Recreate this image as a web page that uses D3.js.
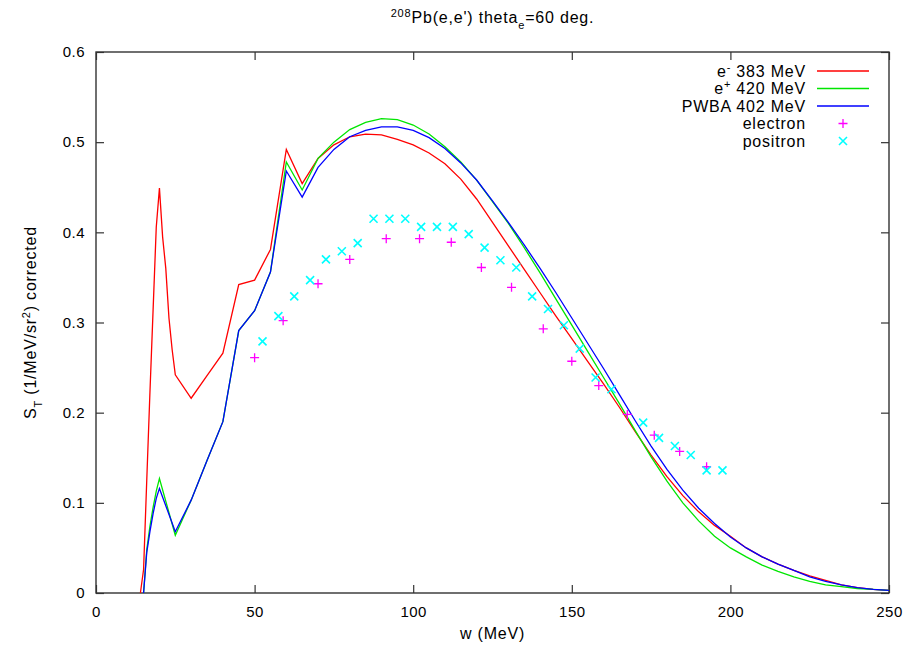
<!DOCTYPE html>
<meta charset="utf-8">
<style>
body { margin: 0; background: #fff; }
svg text { font-family: "Liberation Sans", Arial, sans-serif; fill: #000; }
.tick text { font-size: 15px; letter-spacing: 0.5px; }
.tick line { stroke: #333; stroke-width: 1.2; }
.legend text, .label text { font-size: 16px; letter-spacing: 0.8px; }
</style>
<svg class="chart"></svg>
<script src="https://cdn.jsdelivr.net/npm/d3@7"></script>
<script>

// e- 383 MeV (red)
var redW = [14, 15, 16, 17, 18, 19, 20, 21, 22, 23, 24, 25, 30, 35, 40, 45, 50, 55, 60, 65, 70, 75, 80, 85, 90, 95, 100,
  105, 110, 115, 120, 125, 130, 135, 140, 145, 150, 155, 160, 165, 170, 175, 180, 185, 190, 195, 200,
  205, 210, 215, 220, 225, 230, 235, 240, 245, 250];
var redS = [0, 0.026, 0.125, 0.222, 0.314, 0.406, 0.449, 0.395, 0.36, 0.305, 0.27, 0.242, 0.216, 0.241, 0.266, 0.342,
  0.347, 0.381, 0.492, 0.454, 0.482, 0.497, 0.506, 0.509, 0.508, 0.503, 0.497,
  0.488, 0.476, 0.459, 0.437, 0.411, 0.385, 0.359, 0.333, 0.307, 0.282, 0.257, 0.232, 0.206, 0.179, 0.153, 0.129,
  0.108, 0.090, 0.075, 0.063, 0.050, 0.040, 0.032, 0.025, 0.019, 0.014, 0.009, 0.006, 0.004, 0.003];

// e+ 420 MeV (green) and PWBA 402 MeV (blue) share the same w grid
var gridW = [15, 16, 17, 18, 19, 20, 25, 30, 35, 40, 45, 50, 55, 60, 65, 70, 75, 80, 85, 90, 95, 100,
  105, 110, 115, 120, 125, 130, 135, 140, 145, 150, 155, 160, 165, 170, 175, 180, 185, 190, 195, 200,
  205, 210, 215, 220, 225, 230, 235, 240, 245, 250];
var greenS = [0, 0.048, 0.074, 0.095, 0.113, 0.127, 0.064, 0.103, 0.147, 0.19, 0.291, 0.313, 0.356, 0.478, 0.447,
  0.482, 0.500, 0.514, 0.522, 0.526, 0.525, 0.519, 0.509, 0.495, 0.478, 0.458, 0.434, 0.410, 0.383, 0.355,
  0.326, 0.297, 0.268, 0.239, 0.210, 0.180, 0.151, 0.124, 0.100, 0.080, 0.063, 0.050, 0.040, 0.031, 0.024,
  0.018, 0.013, 0.009, 0.007, 0.005, 0.004, 0.003];
var blueS = [0, 0.045, 0.068, 0.088, 0.105, 0.116, 0.068, 0.103, 0.147, 0.19, 0.291, 0.313, 0.356, 0.468, 0.439,
  0.472, 0.492, 0.506, 0.513, 0.517, 0.517, 0.513, 0.505, 0.493, 0.477, 0.458, 0.435, 0.411, 0.386, 0.360,
  0.333, 0.305, 0.277, 0.249, 0.220, 0.191, 0.163, 0.137, 0.114, 0.094, 0.077, 0.062, 0.050, 0.040, 0.032,
  0.025, 0.018, 0.013, 0.009, 0.006, 0.004, 0.003];

// measured points
var electronW = [50, 59, 70, 80, 91.5, 102, 112, 121.5, 131, 141, 150, 158.5, 167.5, 176, 184, 192.5];
var electronS = [0.261, 0.302, 0.343, 0.370, 0.393, 0.393, 0.389, 0.361, 0.339, 0.293, 0.257, 0.230, 0.198,
  0.175, 0.157, 0.140];
var positronW = [52.5, 57.5, 62.5, 67.5, 72.5, 77.5, 82.5, 87.5, 92.5, 97.5, 102.5, 107.5, 112.5, 117.5, 122.5,
  127.5, 132.5, 137.5, 142.5, 147.5, 152.5, 157.5, 162.5, 172.5, 177.5, 182.5, 187.5, 192.5, 197.5];
var positronS = [0.279, 0.307, 0.329, 0.347, 0.370, 0.379, 0.388, 0.415, 0.415, 0.415, 0.406, 0.406, 0.406,
  0.398, 0.383, 0.369, 0.361, 0.329, 0.315, 0.297, 0.271, 0.239, 0.226, 0.189, 0.172, 0.163, 0.153, 0.136, 0.136];

var xTicks = [0, 50, 100, 150, 200, 250];
var yTicks = [0, 0.1, 0.2, 0.3, 0.4, 0.5, 0.6];
var yTickLabels = ["0", "0.1", "0.2", "0.3", "0.4", "0.5", "0.6"];

var width = 911, height = 649;
// plot frame (window.top is read-only, so use prefixed names)
var plotLeft = 96, plotRight = 889, plotTop = 52, plotBottom = 593;

var svg = d3.select(".chart")
  .attr("width", width)
  .attr("height", height);

var x = d3.scaleLinear().domain([0, 250]).range([plotLeft, plotRight]);
var y = d3.scaleLinear().domain([0, 0.6]).range([plotBottom, plotTop]);

// axes, ticks point inward on all four sides
svg.append("g")
  .attr("transform", "translate(0," + plotBottom + ")")
  .call(d3.axisBottom(x).tickValues(xTicks).tickSize(-8).tickSizeOuter(0).tickPadding(13).tickFormat(d3.format("d")))
  .call(function(g) { g.select(".domain").remove(); })
  .selectAll("text").attr("font-family", null).attr("font-size", null);

svg.append("g")
  .attr("transform", "translate(" + plotLeft + ",0)")
  .call(d3.axisLeft(y).tickValues(yTicks).tickSize(-8).tickSizeOuter(0).tickPadding(11)
    .tickFormat(function(d, i) { return yTickLabels[i]; }))
  .call(function(g) { g.select(".domain").remove(); })
  .selectAll("text").attr("font-family", null).attr("font-size", null);

svg.append("g")
  .attr("transform", "translate(0," + plotTop + ")")
  .call(d3.axisTop(x).tickValues(xTicks).tickSize(-8).tickSizeOuter(0).tickFormat(""))
  .call(function(g) { g.select(".domain").remove(); });

svg.append("g")
  .attr("transform", "translate(" + plotRight + ",0)")
  .call(d3.axisRight(y).tickValues(yTicks).tickSize(-8).tickSizeOuter(0).tickFormat(""))
  .call(function(g) { g.select(".domain").remove(); });

svg.append("rect")
  .attr("x", plotLeft).attr("y", plotTop)
  .attr("width", plotRight - plotLeft).attr("height", plotBottom - plotTop)
  .style("fill", "none").style("stroke", "#333").style("stroke-width", 1.4);

// curves
var line = d3.line()
  .x(function(d) { return x(d[0]); })
  .y(function(d) { return y(d[1]); });

var curves = [
  {w: redW, s: redS, color: "#ff0000"},
  {w: gridW, s: greenS, color: "#00e600"},
  {w: gridW, s: blueS, color: "#0000ff"}
];

curves.forEach(function(c) {
  svg.append("path")
    .datum(d3.zip(c.w, c.s))
    .attr("d", line)
    .style("fill", "none")
    .style("stroke", c.color)
    .style("stroke-width", 1.3);
});

// point symbols, gnuplot style
function plusPath(cx, cy, r) {
  return "M" + (cx - r) + "," + cy + "H" + (cx + r) + "M" + cx + "," + (cy - r) + "V" + (cy + r);
}
function crossPath(cx, cy, r) {
  return "M" + (cx - r) + "," + (cy - r) + "L" + (cx + r) + "," + (cy + r) +
    "M" + (cx - r) + "," + (cy + r) + "L" + (cx + r) + "," + (cy - r);
}

svg.append("g").selectAll("path")
  .data(d3.zip(electronW, electronS))
  .enter().append("path")
  .attr("d", function(d) { return plusPath(x(d[0]), y(d[1]), 4.5); })
  .style("stroke", "#ff00ff").style("stroke-width", 1.3);

svg.append("g").selectAll("path")
  .data(d3.zip(positronW, positronS))
  .enter().append("path")
  .attr("d", function(d) { return crossPath(x(d[0]), y(d[1]), 4); })
  .style("stroke", "#00ffff").style("stroke-width", 1.6);

// legend
var legend = svg.append("g").attr("class", "legend");
var rowY = function(i) { return 71 + i * 17.5; };

function legendText(i, parts) {
  var t = legend.append("text")
    .attr("x", 806).attr("y", rowY(i)).attr("dy", "0.35em")
    .attr("text-anchor", "end");
  parts.forEach(function(p) {
    var ts = t.append("tspan").text(p.t);
    if (p.sup) ts.attr("baseline-shift", "super").style("font-size", "11px");
  });
}

legendText(0, [{t: "e"}, {t: "-", sup: true}, {t: " 383 MeV"}]);
legendText(1, [{t: "e"}, {t: "+", sup: true}, {t: " 420 MeV"}]);
legendText(2, [{t: "PWBA 402 MeV"}]);
legendText(3, [{t: "electron"}]);
legendText(4, [{t: "positron"}]);

curves.forEach(function(c, i) {
  legend.append("line")
    .attr("x1", 817).attr("x2", 869)
    .attr("y1", rowY(i)).attr("y2", rowY(i))
    .style("stroke", c.color).style("stroke-width", 1.3);
});
legend.append("path").attr("d", plusPath(843, rowY(3), 4.5))
  .style("stroke", "#ff00ff").style("stroke-width", 1.3);
legend.append("path").attr("d", crossPath(843, rowY(4), 4))
  .style("stroke", "#00ffff").style("stroke-width", 1.6);

// titles
var labels = svg.append("g").attr("class", "label");

var title = labels.append("text")
  .attr("x", (plotLeft + plotRight) / 2).attr("y", 23)
  .attr("text-anchor", "middle");
title.append("tspan").text("208").attr("baseline-shift", "super").style("font-size", "11px");
title.append("tspan").text("Pb(e,e') theta");
title.append("tspan").text("e").attr("baseline-shift", "sub").style("font-size", "11px");
title.append("tspan").text("=60 deg.");

labels.append("text")
  .attr("x", (plotLeft + plotRight) / 2).attr("y", 639)
  .attr("text-anchor", "middle")
  .text("w (MeV)");

var ylab = labels.append("text")
  .attr("transform", "translate(36," + (plotTop + plotBottom) / 2 + ") rotate(-90)")
  .attr("text-anchor", "middle");
ylab.append("tspan").text("S");
ylab.append("tspan").text("T").attr("baseline-shift", "sub").style("font-size", "11px");
ylab.append("tspan").text(" (1/MeV/sr");
ylab.append("tspan").text("2").attr("baseline-shift", "super").style("font-size", "11px");
ylab.append("tspan").text(") corrected");

</script>
